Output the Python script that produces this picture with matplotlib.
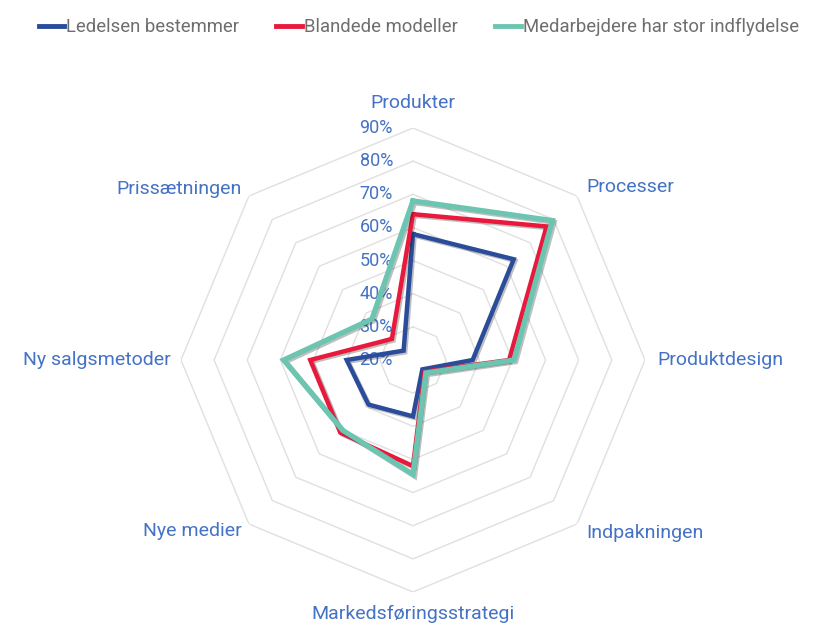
import numpy as np
import matplotlib
matplotlib.use("Agg")
import matplotlib.pyplot as plt
import matplotlib.patheffects as pe
from matplotlib.transforms import ScaledTranslation

plt.rcParams['font.family'] = ['Roboto', 'DejaVu Sans']

categories = ["Produkter", "Processer", "Produktdesign", "Indpakningen",
              "Markedsføringsstrategi", "Nye medier", "Ny salgsmetoder", "Prissætningen"]
series_names = ["Ledelsen bestemmer", "Blandede modeller", "Medarbejdere har stor indflydelse"]
ledelsen = [58, 63, 38, 24, 37, 39, 40, 24]
blandede = [64, 77, 49, 25, 52, 51, 51, 29]
medarbejdere = [68, 79.5, 50.5, 25.5, 54.5, 50, 59, 37.5]
colors = ["#2B4C9B", "#E8193C", "#6CC5B0"]
widths = [3.2, 3.2, 3.8]
r_ticks = [20, 30, 40, 50, 60, 70, 80, 90]

label_color = "#4472C4"
grid_color = "#E0E0E0"

fig = plt.figure(figsize=(8.29, 6.26), dpi=100)
ax = fig.add_axes([0.2183, 0.0543, 0.5597, 0.7412], projection="polar")
ax.set_theta_zero_location("N")
ax.set_theta_direction(-1)
ax.set_ylim(r_ticks[0], r_ticks[-1])

n = len(categories)
theta = np.linspace(0, 2 * np.pi, n, endpoint=False)
theta_c = np.append(theta, theta[0])

# octagon grid instead of circles
ax.grid(False)
ax.spines['polar'].set_visible(False)
ax.set_xticks([])
ax.set_yticks([])
for r in r_ticks[1:]:
    ax.plot(theta_c, [r] * (n + 1), color=grid_color, lw=1.0, zorder=1)

# radial tick labels, left of the vertical axis
off = ScaledTranslation(-0.2, 0, fig.dpi_scale_trans)
for r in r_ticks:
    ax.text(0, r, f"{r}%", transform=ax.transData + off, ha="right", va="center",
            color=label_color, fontsize=13, zorder=2, clip_on=False)

# series
for vals, name, c, w in zip([ledelsen, blandede, medarbejdere], series_names, colors, widths):
    v = np.append(vals, vals[0])
    ax.plot(theta_c, v, color=c, lw=w, label=name, zorder=3, solid_joinstyle="miter",
            path_effects=[pe.SimpleLineShadow(offset=(1.2, -1.2), alpha=0.25, shadow_color="black"),
                          pe.Normal()])

# category labels
for t, cat in zip(theta, categories):
    deg = np.degrees(t) % 360
    if deg == 0:
        ha, va, r = "center", "center", 97.5
    elif deg == 180:
        ha, va, r = "center", "center", 96.5
    elif deg < 180:
        ha, va, r = "left", "center", 93.8
    else:
        ha, va, r = "right", "center", 93.
    ax.text(t, r, cat, ha=ha, va=va, color=label_color, fontsize=14, clip_on=False)

leg = fig.legend(loc="upper center", bbox_to_anchor=(0.505, 0.998), ncol=3, frameon=False,
                 handlelength=1.4, handletextpad=0.1, columnspacing=2.0, fontsize=13.3)
for line in leg.get_lines():
    line.set_linewidth(3.5)
    line.set_path_effects([])
for txt in leg.get_texts():
    txt.set_color("#6E6E6E")

plt.savefig("out.png", dpi=100)
